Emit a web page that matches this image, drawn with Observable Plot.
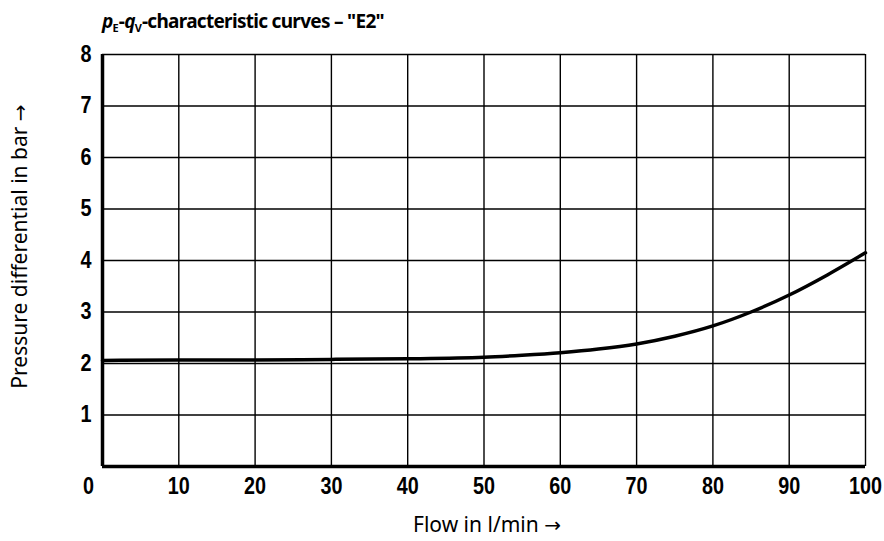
<!DOCTYPE html>
<html>
<head>
<meta charset="utf-8">
<script src="https://cdn.jsdelivr.net/npm/d3@7"></script>
<script src="https://cdn.jsdelivr.net/npm/@observablehq/plot@0.6"></script>
<style>
  html, body { margin: 0; padding: 0; background: #fff; }
  #wrap { position: relative; width: 884px; height: 541px; }
  #title { position: absolute; left: 102px; top: 7px; font-family: "Noto Sans", "Open Sans", sans-serif; font-weight: bold; font-size: 19px; letter-spacing: -0.7px; color: #000; white-space: nowrap; line-height: 28px; }
  #title sub { font-size: 11px; vertical-align: -4px; line-height: 0; letter-spacing: 0; }
</style>
</head>
<body>
<div id="wrap">
  <div id="title"><i>p</i><sub>E</sub>-<i>q</i><sub>V</sub>-characteristic curves – "E2"</div>
</div>
<script>
const flow = [0, 10, 20, 30, 40, 50, 55, 60, 65, 70, 75, 80, 85, 90, 95, 100];
const pressure = [2.06, 2.07, 2.07, 2.08, 2.09, 2.12, 2.16, 2.21, 2.28, 2.38, 2.53, 2.73, 3.0, 3.33, 3.72, 4.15];
const xTicks = [10, 20, 30, 40, 50, 60, 70, 80, 90, 100];
const yTicks = [1, 2, 3, 4, 5, 6, 7, 8];
const xLabel = "Flow in l/min →";
const yLabel = "Pressure differential in bar →";

const data = flow.map((f, i) => ({flow: f, pressure: pressure[i]}));
const tickFont = '"Liberation Sans", Arial, sans-serif';
const labelFont = '"Noto Sans", "Open Sans", sans-serif';

const chart = Plot.plot({
  width: 884,
  height: 541,
  marginLeft: 102,
  marginRight: 19,
  marginTop: 54,
  marginBottom: 75,
  x: {domain: [0, 100]},
  y: {domain: [0, 8]},
  style: {fontFamily: tickFont, fontSize: "23px", fontWeight: "bold", color: "#000", background: "#fff", overflow: "visible"},
  marks: [
    Plot.gridX(xTicks, {stroke: "#000", strokeOpacity: 1, strokeWidth: 1.4}),
    Plot.gridY(yTicks, {stroke: "#000", strokeOpacity: 1, strokeWidth: 1.4}),
    Plot.axisX(xTicks, {tickSize: 0, tickPadding: 11, label: null, tickFormat: d3.format("d"), fontWeight: "bold", fontSize: 23, className: "tk"}),
    Plot.axisY(yTicks, {tickSize: 0, tickPadding: 11, label: null, tickFormat: d3.format("d"), fontWeight: "bold", fontSize: 23, className: "tk"}),
    Plot.text(["0"], {x: 0, y: 0, dx: -14, dy: 20, text: d => d, fontWeight: "bold", fontSize: 23, className: "tk"}),
    Plot.line(data, {x: "flow", y: "pressure", curve: "monotone-x", stroke: "#000", strokeWidth: 3.5}),
    Plot.ruleX([0], {stroke: "#000", strokeWidth: 3.5}),
    Plot.ruleY([0], {stroke: "#000", strokeWidth: 3.5}),
    Plot.text([xLabel], {frameAnchor: "bottom", lineAnchor: "middle", textAnchor: "middle", dx: 3, dy: 59, text: d => d, fontFamily: labelFont, fontWeight: "normal", fontSize: 21, className: "lbl"}),
    Plot.text([yLabel], {frameAnchor: "left", lineAnchor: "middle", textAnchor: "middle", dx: -82, dy: -14, rotate: -90, text: d => d, fontFamily: labelFont, fontWeight: "normal", fontSize: 21, className: "lbl"})
  ]
});
// condense the bold tick digits horizontally
chart.querySelectorAll("g[class*='tk'] text, g[aria-label*='tick label'] text").forEach(t => {
  const tr = t.getAttribute("transform") || "";
  t.setAttribute("transform", tr + " scale(0.86,1)");
});
// enlarge the arrow glyph in the axis labels
chart.querySelectorAll("g[class*='lbl'] text").forEach(t => {
  const s = t.textContent;
  if (s.endsWith("→")) {
    t.textContent = s.slice(0, -1);
    const ts = document.createElementNS("http://www.w3.org/2000/svg", "tspan");
    ts.setAttribute("font-family", "DejaVu Sans");
    ts.setAttribute("font-size", "20");
    ts.textContent = "→";
    t.appendChild(ts);
  }
});
document.getElementById("wrap").prepend(chart);
</script>
</body>
</html>
